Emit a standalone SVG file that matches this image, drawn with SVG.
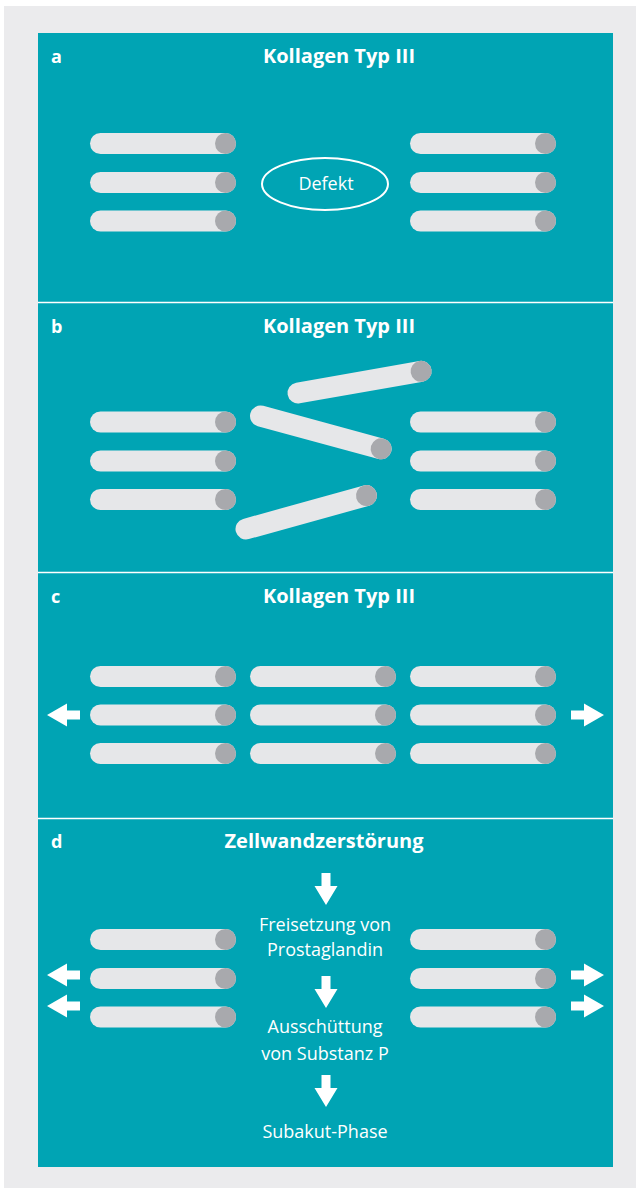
<svg xmlns="http://www.w3.org/2000/svg" xmlns:xlink="http://www.w3.org/1999/xlink" width="640" height="1193" viewBox="0 0 640 1193">
<style>
.bg{fill:#EBEBED}
.panel{fill:#00A4B4}
.sep{stroke:#FFFFFF;stroke-width:1.6}
.body{fill:#E6E7E9}
.cap{fill:#A8A9AD}
.lbl{font-family:"Open Sans","Liberation Sans",sans-serif;font-weight:700;font-size:18px;fill:#FFFFFF}
.ttl{font-family:"Open Sans","Liberation Sans",sans-serif;font-weight:700;font-size:20px;fill:#FFFFFF;text-anchor:middle}
.txt{font-family:"Open Sans","Liberation Sans",sans-serif;font-weight:400;font-size:18px;fill:#FFFFFF;text-anchor:middle}
.arr{fill:#FFFFFF}
.ell{fill:none;stroke:#FFFFFF;stroke-width:2}
</style>
<defs>
<g id="rod">
<rect class="body" x="-10.5" y="-10.5" width="146" height="21" rx="10.5"/>
<circle class="cap" cx="125" cy="0" r="10.5"/>
</g>
<polygon id="arrL" points="0,0 20,-11.5 20,-4.5 33,-4.5 33,4.5 20,4.5 20,11.5"/>
<polygon id="arrR" points="0,0 -20,-11.5 -20,-4.5 -33,-4.5 -33,4.5 -20,4.5 -20,11.5"/>
<polygon id="arrD" points="0,0 -11.5,-19 -4.5,-19 -4.5,-32 4.5,-32 4.5,-19 11.5,-19"/>
</defs>
<rect x="0" y="0" width="640" height="1193" fill="#FFFFFF"/>
<rect class="bg" x="4" y="6" width="632" height="1182"/>
<rect class="panel" x="38" y="33" width="575" height="1134"/>
<g id="separators">
<line class="sep" x1="38" y1="302.5" x2="613" y2="302.5"/>
<line class="sep" x1="38" y1="572.5" x2="613" y2="572.5"/>
<line class="sep" x1="38" y1="818.5" x2="613" y2="818.5"/>
</g>

<g id="panel-a">
<text class="lbl" x="51" y="63">a</text>
<text class="ttl" x="339" y="63">Kollagen Typ III</text>
<g id="a-rods-left">
<use xlink:href="#rod" href="#rod" x="100.5" y="143.5"/>
<use xlink:href="#rod" href="#rod" x="100.5" y="182.5"/>
<use xlink:href="#rod" href="#rod" x="100.5" y="221"/>
</g>
<g id="a-defekt">
<ellipse class="ell" cx="325" cy="184" rx="63" ry="26"/>
<text class="txt" x="326" y="190">Defekt</text>
</g>
<g id="a-rods-right">
<use xlink:href="#rod" href="#rod" x="420.5" y="143.5"/>
<use xlink:href="#rod" href="#rod" x="420.5" y="182.5"/>
<use xlink:href="#rod" href="#rod" x="420.5" y="221"/>
</g>
</g>

<g id="panel-b">
<text class="lbl" x="51" y="333">b</text>
<text class="ttl" x="339" y="333">Kollagen Typ III</text>
<g id="b-rods-left">
<use xlink:href="#rod" href="#rod" x="100.5" y="422"/>
<use xlink:href="#rod" href="#rod" x="100.5" y="461"/>
<use xlink:href="#rod" href="#rod" x="100.5" y="499.5"/>
</g>
<g id="b-rods-tilted">
<use xlink:href="#rod" href="#rod" transform="translate(298,393) rotate(-10)"/>
<use xlink:href="#rod" href="#rod" transform="translate(260.5,416) rotate(15.2)"/>
<use xlink:href="#rod" href="#rod" transform="translate(246,529) rotate(-15.5)"/>
</g>
<g id="b-rods-right">
<use xlink:href="#rod" href="#rod" x="420.5" y="422"/>
<use xlink:href="#rod" href="#rod" x="420.5" y="461"/>
<use xlink:href="#rod" href="#rod" x="420.5" y="499.5"/>
</g>
</g>

<g id="panel-c">
<text class="lbl" x="51" y="603">c</text>
<text class="ttl" x="339" y="603">Kollagen Typ III</text>
<g id="c-rods-left">
<use xlink:href="#rod" href="#rod" x="100.5" y="676.5"/>
<use xlink:href="#rod" href="#rod" x="100.5" y="715"/>
<use xlink:href="#rod" href="#rod" x="100.5" y="753.5"/>
</g>
<g id="c-rods-middle">
<use xlink:href="#rod" href="#rod" x="260.5" y="676.5"/>
<use xlink:href="#rod" href="#rod" x="260.5" y="715"/>
<use xlink:href="#rod" href="#rod" x="260.5" y="753.5"/>
</g>
<g id="c-rods-right">
<use xlink:href="#rod" href="#rod" x="420.5" y="676.5"/>
<use xlink:href="#rod" href="#rod" x="420.5" y="715"/>
<use xlink:href="#rod" href="#rod" x="420.5" y="753.5"/>
</g>
</g>

<g id="panel-d">
<text class="lbl" x="51" y="848">d</text>
<text class="ttl" x="324" y="848">Zellwandzerstörung</text>
<g id="d-rods-left">
<use xlink:href="#rod" href="#rod" x="100.5" y="939.5"/>
<use xlink:href="#rod" href="#rod" x="100.5" y="978.5"/>
<use xlink:href="#rod" href="#rod" x="100.5" y="1017"/>
</g>
<g id="d-rods-right">
<use xlink:href="#rod" href="#rod" x="420.5" y="939.5"/>
<use xlink:href="#rod" href="#rod" x="420.5" y="978.5"/>
<use xlink:href="#rod" href="#rod" x="420.5" y="1017"/>
</g>
<g id="d-step1"><text class="txt" x="325" y="931">Freisetzung von</text><text class="txt" x="325" y="956">Prostaglandin</text></g>
<g id="d-step2"><text class="txt" x="325" y="1033">Ausschüttung</text><text class="txt" x="325" y="1060">von Substanz P</text></g>
<g id="d-step3"><text class="txt" x="325" y="1138">Subakut-Phase</text></g>
</g>

<g id="connectors">
<use class="arr" xlink:href="#arrL" href="#arrL" x="47" y="715"/>
<use class="arr" xlink:href="#arrR" href="#arrR" x="604" y="715"/>
<use class="arr" xlink:href="#arrL" href="#arrL" x="47" y="975"/>
<use class="arr" xlink:href="#arrL" href="#arrL" x="47" y="1006"/>
<use class="arr" xlink:href="#arrR" href="#arrR" x="604" y="975"/>
<use class="arr" xlink:href="#arrR" href="#arrR" x="604" y="1006"/>
<use class="arr" xlink:href="#arrD" href="#arrD" x="326" y="905"/>
<use class="arr" xlink:href="#arrD" href="#arrD" x="326" y="1008"/>
<use class="arr" xlink:href="#arrD" href="#arrD" x="326" y="1107"/>
</g>
</svg>
